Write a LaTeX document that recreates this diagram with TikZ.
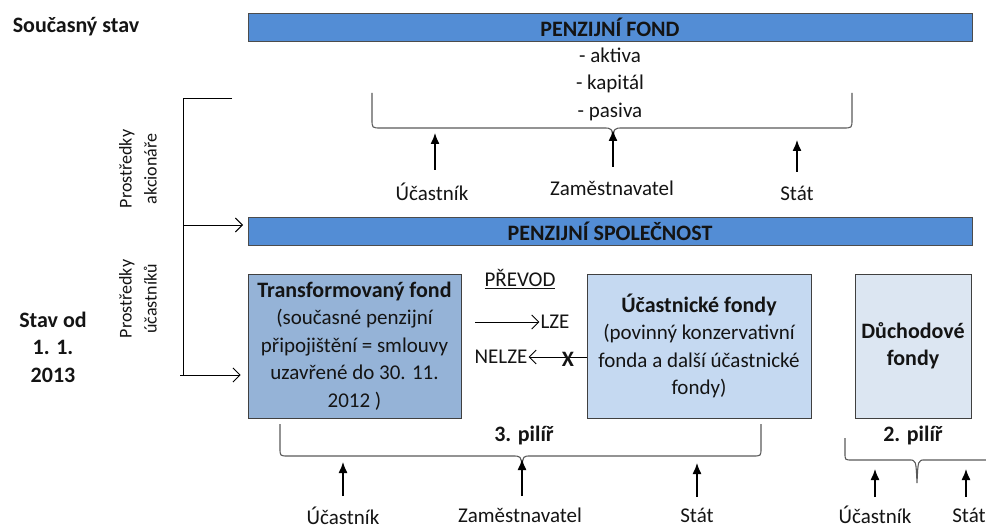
\documentclass[tikz,border=0pt]{standalone}
\usepackage{fontspec}
\setmainfont{Carlito}
\usetikzlibrary{arrows.meta,positioning}
\definecolor{barblue}{RGB}{83,141,213}
\definecolor{transblue}{RGB}{149,179,215}
\definecolor{ucastblue}{RGB}{197,217,241}
\definecolor{duchblue}{RGB}{220,230,242}
\definecolor{txt}{RGB}{20,20,20}
\newcommand{\bfsz}{\fontsize{22}{27.5}\selectfont\bfseries}

\begin{document}
\begin{tikzpicture}[x=1pt,y=-1pt, font=\fontsize{21}{27.5}\selectfont, text=txt,
  bar/.style={draw=black!70, fill=barblue, minimum width=724pt, minimum height=28pt, inner sep=0pt, font=\bfsz},
  fundbox/.style={draw=black!75, thick, minimum height=144pt, inner sep=0pt, align=center},
  lbl/.style={inner sep=1pt},
  brace/.style={draw=black!65, line width=1.1pt},
  uparrow/.style={line width=1.3pt, -{Latex[length=11pt,width=9pt]}},
  openarrow/.style={line width=0.9pt, -{Straight Barb[length=7pt,width=14pt]}}]
\useasboundingbox (0,0) rectangle (986,532);

% levy sloupec
\node[lbl, font=\bfsz] (soucasny) at (76,27) {Současný stav};
\node[lbl, align=center, font=\bfsz] (stavod) at (53,347) {Stav od\\1. 1.\\2013};
\node[lbl, align=center, rotate=90, font=\fontsize{18}{25}\selectfont] (akcion) at (138,169) {Prostředky\\akcionáře};
\node[lbl, align=center, rotate=90, font=\fontsize{18}{25}\selectfont] (ucastnik) at (138,299) {Prostředky\\účastníků};

% penzijni fond
\node[bar] (fond) at (610,27) {PENZIJNÍ FOND};
\node[lbl, align=center] (aktiva) at (610,84) {- aktiva\\- kapitál\\- pasiva};
\draw[brace] (372,93) -- (372,119) .. controls (372,128) .. (381,128) -- (603,128)
  .. controls (612,128) .. (613,140) .. controls (614,128) .. (623,128) -- (843,128)
  .. controls (852,128) .. (852,119) -- (852,93);

\node[lbl] (ucA) at (432,192) {Účastník};
\node[lbl] (zamA) at (612,188) {Zaměstnavatel};
\node[lbl] (statA) at (797,193) {Stát};
\coordinate (ucAtop) at (435,170);
\coordinate (zamAtop) at (613,167);
\coordinate (statAtop) at (797,172);
\draw[uparrow] (ucAtop) -- (435,133);
\draw[uparrow] (zamAtop) -- (613,130);
\draw[uparrow] (statAtop) -- (797,140);

% penzijni spolecnost
\node[bar] (spol) at (610,231) {PENZIJNÍ SPOLEČNOST};

\coordinate (brTop) at (232,98);
\coordinate (brMid) at (183,225);
\coordinate (brBot) at (180,375);
\coordinate (spolIn) at (243,225);
\draw[line width=0.9pt] (brTop) -- (183,98) -- (183,375) -- (brBot);
\draw[openarrow] (brMid) -- (spolIn);

% fondy
\node[fundbox, fill=transblue, minimum width=213pt] (transf) at (354.5,346)
  {{\bfsz Transformovaný fond}\\(současné penzijní\\připojištění = smlouvy\\uzavřené do 30. 11.\\2012 )};
\node[fundbox, fill=ucastblue, minimum width=224pt] (ucfondy) at (699,346)
  {{\bfsz Účastnické fondy}\\(povinný konzervativní\\fonda a další účastnické\\fondy)};
\node[fundbox, fill=duchblue, minimum width=116pt, font=\bfsz] (duch) at (913,346)
  {Důchodové\\fondy};
\draw[openarrow] (brBot) -- ([xshift=-7pt]transf.west |- brBot);

% prevod
\node[lbl] (prevod) at (520,279) {\underline{PŘEVOD}};
\node[lbl] (lze) at (555,322) {LZE};
\node[lbl] (nelze) at (501,357) {NELZE};
\coordinate (lzeStart) at (475,322);
\draw[openarrow] (lzeStart) -- (lze.west);
\draw[openarrow] (ucfondy.west |- nelze) -- (nelze.east);
\node[lbl, font=\bfsz] (xmark) at (568,359) {X};

% 3. pilir
\node[lbl, font=\bfsz] (pilir3) at (524,436) {3. pilíř};
\draw[brace] (280,424) -- (280,448) .. controls (280,456) .. (288,456) -- (512,456)
  .. controls (521,456) .. (522,467) .. controls (523,456) .. (531,456) -- (753,456)
  .. controls (761,456) .. (761,448) -- (761,424);
\node[lbl] (ucB) at (343,516) {Účastník};
\node[lbl] (zamB) at (520,515) {Zaměstnavatel};
\node[lbl] (statB) at (697,515) {Stát};
\coordinate (ucBtop) at (343,496);
\coordinate (zamBtop) at (522,496);
\coordinate (statBtop) at (697,497);
\draw[uparrow] (ucBtop) -- (343,462);
\draw[uparrow] (zamBtop) -- (522,459);
\draw[uparrow] (statBtop) -- (697,463);

% 2. pilir
\node[lbl, font=\bfsz] (pilir2) at (913,436) {2. pilíř};
\draw[brace] (845,438) -- (845,453) .. controls (845,460) .. (852,460) -- (909,460)
  .. controls (916,460) .. (917,483) .. controls (918,460) .. (925,460) -- (990,460);
\node[lbl] (ucC) at (875,515) {Účastník};
\node[lbl] (statC) at (969,515) {Stát};
\coordinate (ucCtop) at (875,497);
\coordinate (statCtop) at (966,497);
\draw[uparrow] (ucCtop) -- (875,469);
\draw[uparrow] (statCtop) -- (966,469);
\end{tikzpicture}
\end{document}
